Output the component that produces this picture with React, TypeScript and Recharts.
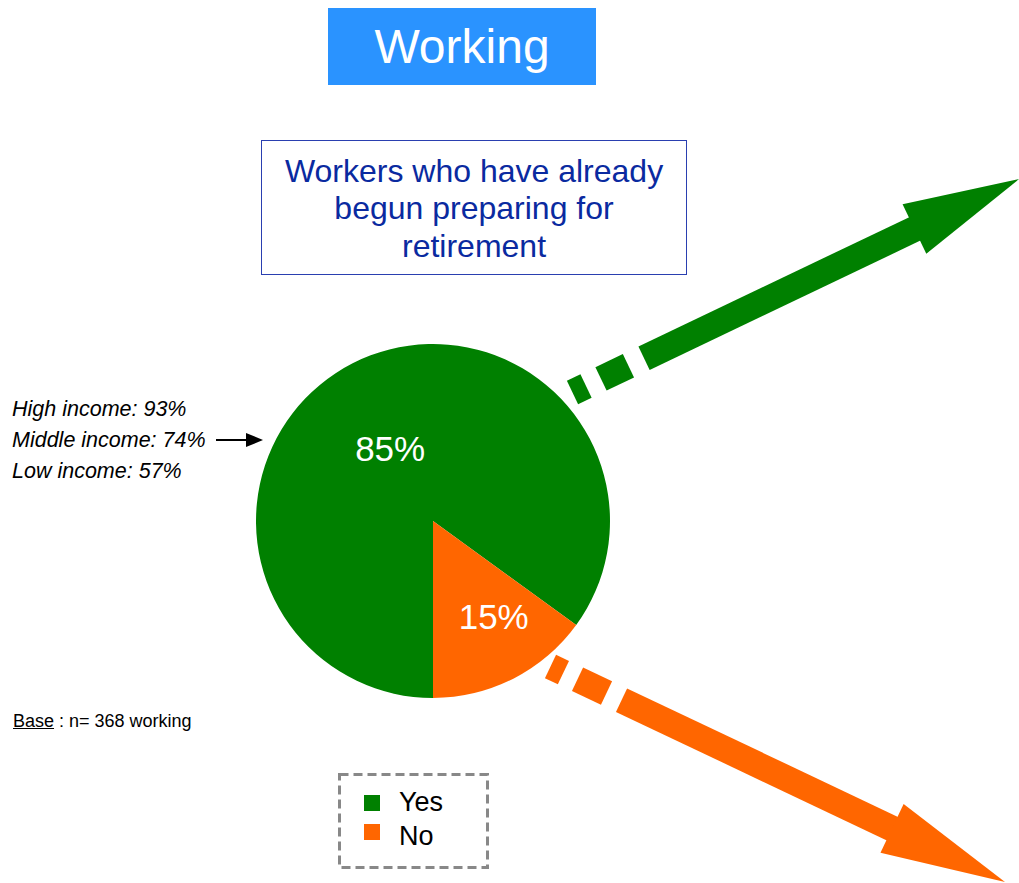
import React from "react";
import { PieChart, Pie, Cell, Legend } from "recharts";

const categories = ["Yes", "No"];
const shares = [85, 15];
const incomeLines = ["High income: 93%", "Middle income: 74%", "Low income: 57%"];
const titleText = "Working";
const subtitleLines = ["Workers who have already", "begun preparing for", "retirement"];
const baseSample = 368;

const COLORS = ["#008000", "#FF6600"];
const LABEL_POS = [
  { r: 0.484, dAngle: 3 },
  { r: 0.63, dAngle: 6 },
];

const data = categories.map((name, i) => ({ name, value: shares[i] }));

const RAD = Math.PI / 180;

type ArrowSpec = {
  sx: number; sy: number; angle: number; len: number; w: number;
  headLen: number; headW: number; segs: number[][]; color: string;
};

const arrows: ArrowSpec[] = [
  { sx: 572.5, sy: 392.5, angle: -25.55, len: 495, w: 26, headLen: 116, headW: 55,
    segs: [[0, 15], [31.6, 62], [79.3, 380]], color: COLORS[0] },
  { sx: 550.5, sy: 666.5, angle: 25.37, len: 503, w: 26, headLen: 125, headW: 54,
    segs: [[0, 14.3], [29.9, 62], [78.6, 379]], color: COLORS[1] },
];

function arrowShapes(a: ArrowSpec, key: number) {
  const ux = Math.cos(a.angle * RAD), uy = Math.sin(a.angle * RAD);
  const nx = -uy, ny = ux;
  const pt = (t: number, o: number) => `${a.sx + ux * t + nx * o},${a.sy + uy * t + ny * o}`;
  const h = a.w / 2;
  const polys = a.segs.map(([t0, t1], i) => (
    <polygon key={`${key}-${i}`} points={[pt(t0, -h), pt(t1, -h), pt(t1, h), pt(t0, h)].join(" ")} fill={a.color} />
  ));
  const hb = a.len - a.headLen;
  polys.push(
    <polygon key={`${key}-head`} points={[pt(hb, -a.headW / 2), pt(a.len, 0), pt(hb, a.headW / 2)].join(" ")} fill={a.color} />
  );
  return polys;
}

const renderLabel = (props: any) => {
  const { cx, cy, midAngle, outerRadius, index, percent } = props;
  const pos = LABEL_POS[index];
  const ang = (midAngle + pos.dAngle) * RAD;
  const x = cx + outerRadius * pos.r * Math.cos(ang);
  const y = cy - outerRadius * pos.r * Math.sin(ang);
  return (
    <text x={x} y={y + 2} fill="#ffffff" textAnchor="middle" dominantBaseline="central"
      fontFamily="'Liberation Sans', Arial, sans-serif" fontSize={35}>
      {`${Math.round(percent * 100)}%`}
    </text>
  );
};

const renderLegend = () => (
  <svg width={151} height={96} style={{ display: "block" }}>
    <rect x={1.5} y={1.5} width={148} height={93} fill="none" stroke="#888888" strokeWidth={3} strokeDasharray="9 5" />
    {data.map((d, i) => (
      <g key={d.name}>
        <rect x={26} y={22 + i * 29} width={16} height={16} fill={COLORS[i]} />
        <text x={61} y={29 + i * 34} dominantBaseline="central" fontSize={27}
          fontFamily="'Liberation Sans', Arial, sans-serif" fill="#000">{d.name}</text>
      </g>
    ))}
  </svg>
);

const font = "'Liberation Sans', Arial, sans-serif";

export default function App() {
  return (
    <div style={{ position: "absolute", left: 0, top: 0, width: 1019, height: 883, background: "#fff", overflow: "hidden", fontFamily: font }}>
      <svg width={1019} height={883} style={{ position: "absolute", left: 0, top: 0 }}>
        {arrows.map((a, i) => arrowShapes(a, i))}
      </svg>
      <div style={{ position: "absolute", left: 0, top: 0 }}>
        <PieChart width={1019} height={883} margin={{ top: 0, right: 0, bottom: 0, left: 0 }}>
          <Pie data={data} dataKey="value" nameKey="name" cx={433} cy={521} outerRadius={177}
            startAngle={-36} endAngle={324} stroke="none" label={renderLabel} labelLine={false}
            isAnimationActive={false}>
            {data.map((d, i) => <Cell key={d.name} fill={COLORS[i]} />)}
          </Pie>
          <Legend content={renderLegend} wrapperStyle={{ position: "absolute", left: 338, top: 773, width: 151, height: 96, bottom: "auto" }} />
        </PieChart>
      </div>
      <div style={{ position: "absolute", left: 328, top: 8, width: 268, height: 77, background: "#2A93FF", color: "#fff", fontSize: 48, display: "flex", alignItems: "center", justifyContent: "center" }}>
        {titleText}
      </div>
      <div style={{ position: "absolute", left: 261, top: 140, width: 424, height: 130, border: "1px solid #2A3FB0", color: "#0A2AA0", fontSize: 32, lineHeight: "37.5px", textAlign: "center", display: "flex", flexDirection: "column", justifyContent: "center", paddingTop: 3, boxSizing: "content-box" }}>
        {subtitleLines.map((l) => <div key={l}>{l}</div>)}
      </div>
      <div style={{ position: "absolute", left: 12, top: 394, fontSize: 21.5, fontStyle: "italic", lineHeight: "31px", color: "#000" }}>
        {incomeLines.map((l) => <div key={l}>{l}</div>)}
      </div>
      <svg width={60} height={20} style={{ position: "absolute", left: 210, top: 430 }}>
        <line x1={6} y1={10} x2={40} y2={10} stroke="#000" strokeWidth={2} />
        <polygon points="36,3 53,10 36,17" fill="#000" />
      </svg>
      <div style={{ position: "absolute", left: 13, top: 711, fontSize: 18, color: "#000", whiteSpace: "nowrap" }}>
        <span style={{ textDecoration: "underline" }}>Base</span> : n= {baseSample} working
      </div>
    </div>
  );
}
